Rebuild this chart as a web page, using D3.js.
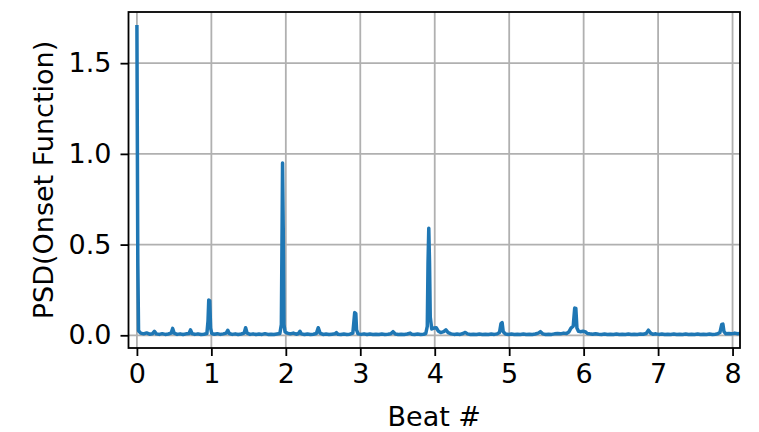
<!DOCTYPE html>
<html>
<head>
<meta charset="utf-8">
<script src="https://cdn.jsdelivr.net/npm/d3@7"></script>
<style>
    body { margin: 0; background: #fff; }
    svg { display: block; font-family: "DejaVu Sans", sans-serif; }
</style>
</head>
<body>
<div id="chart"></div>
<script>
// beat position vs PSD of onset function
const psdPoints = [
    [0.000, 1.71], [0.012, 0.40], [0.022, 0.025], [0.05, 0.012], [0.09, 0.008], [0.13, 0.013], [0.17, 0.006],
    [0.21, 0.009], [0.235, 0.022], [0.26, 0.008], [0.30, 0.005], [0.34, 0.009], [0.38, 0.005], [0.42, 0.007],
    [0.46, 0.012], [0.48, 0.038], [0.50, 0.012], [0.54, 0.005], [0.58, 0.008], [0.62, 0.004], [0.66, 0.008],
    [0.70, 0.010], [0.72, 0.030], [0.74, 0.010], [0.78, 0.005], [0.82, 0.008], [0.86, 0.004], [0.90, 0.006],
    [0.94, 0.010], [0.955, 0.08], [0.965, 0.195], [0.978, 0.19], [0.99, 0.04], [1.005, 0.010],
    [1.04, 0.006], [1.08, 0.009], [1.12, 0.005], [1.16, 0.008], [1.20, 0.012], [1.22, 0.028], [1.24, 0.010],
    [1.28, 0.005], [1.32, 0.008], [1.36, 0.004], [1.40, 0.007], [1.44, 0.012], [1.46, 0.042], [1.48, 0.012],
    [1.52, 0.005], [1.56, 0.008], [1.60, 0.004], [1.64, 0.007], [1.68, 0.005], [1.72, 0.009], [1.76, 0.005],
    [1.80, 0.006], [1.84, 0.004], [1.88, 0.007], [1.92, 0.010], [1.94, 0.06], [1.950, 0.60], [1.956, 0.95],
    [1.965, 0.60], [1.975, 0.06], [1.99, 0.018],
    [2.02, 0.012], [2.06, 0.008], [2.10, 0.012], [2.14, 0.006], [2.17, 0.010], [2.19, 0.022], [2.21, 0.008],
    [2.25, 0.004], [2.29, 0.007], [2.33, 0.004], [2.37, 0.006], [2.41, 0.010], [2.435, 0.042], [2.46, 0.012],
    [2.50, 0.005], [2.54, 0.007], [2.58, 0.004], [2.62, 0.006], [2.66, 0.008], [2.68, 0.015], [2.70, 0.006],
    [2.74, 0.004], [2.78, 0.007], [2.82, 0.005], [2.86, 0.006], [2.90, 0.012], [2.915, 0.08], [2.925, 0.125],
    [2.94, 0.12], [2.95, 0.03], [2.97, 0.008],
    [3.01, 0.005], [3.05, 0.008], [3.09, 0.004], [3.13, 0.007], [3.17, 0.005], [3.21, 0.006], [3.25, 0.004],
    [3.29, 0.007], [3.33, 0.005], [3.37, 0.006], [3.41, 0.008], [3.44, 0.020], [3.47, 0.007], [3.51, 0.004],
    [3.55, 0.006], [3.59, 0.005], [3.63, 0.007], [3.67, 0.012], [3.69, 0.006], [3.73, 0.004], [3.77, 0.007],
    [3.81, 0.005], [3.85, 0.006], [3.88, 0.010], [3.90, 0.05], [3.91, 0.40], [3.92, 0.59], [3.93, 0.40],
    [3.94, 0.10], [3.96, 0.035], [3.99, 0.04], [4.02, 0.042], [4.05, 0.022], [4.08, 0.015], [4.12, 0.020],
    [4.15, 0.030], [4.18, 0.015], [4.22, 0.008],
    [4.26, 0.005], [4.30, 0.007], [4.34, 0.005], [4.38, 0.010], [4.41, 0.016], [4.44, 0.008], [4.48, 0.004],
    [4.52, 0.006], [4.56, 0.004], [4.60, 0.007], [4.64, 0.005], [4.68, 0.006], [4.72, 0.004], [4.76, 0.007],
    [4.80, 0.005], [4.84, 0.008], [4.87, 0.015], [4.89, 0.065], [4.905, 0.07], [4.92, 0.020], [4.95, 0.007],
    [4.99, 0.005], [5.03, 0.007], [5.07, 0.004], [5.11, 0.006], [5.15, 0.005], [5.19, 0.007], [5.23, 0.004],
    [5.27, 0.006], [5.31, 0.005], [5.35, 0.007], [5.39, 0.012], [5.42, 0.020], [5.45, 0.008], [5.49, 0.004],
    [5.53, 0.006], [5.57, 0.005], [5.61, 0.008], [5.65, 0.010], [5.69, 0.008], [5.73, 0.012], [5.77, 0.010],
    [5.80, 0.018], [5.83, 0.040], [5.86, 0.05], [5.88, 0.15], [5.895, 0.148], [5.91, 0.04], [5.93, 0.022],
    [5.96, 0.020], [5.99, 0.022], [6.02, 0.020], [6.05, 0.010], [6.08, 0.008], [6.12, 0.006], [6.16, 0.009],
    [6.20, 0.006], [6.24, 0.005], [6.28, 0.007], [6.32, 0.004], [6.36, 0.006], [6.40, 0.005], [6.44, 0.007],
    [6.48, 0.004], [6.52, 0.006], [6.56, 0.005], [6.60, 0.007], [6.64, 0.004], [6.68, 0.006], [6.72, 0.005],
    [6.76, 0.007], [6.80, 0.006], [6.84, 0.010], [6.87, 0.028], [6.90, 0.012], [6.93, 0.006],
    [6.97, 0.008], [7.01, 0.005], [7.05, 0.007], [7.09, 0.004], [7.13, 0.006], [7.17, 0.005], [7.21, 0.007],
    [7.25, 0.004], [7.29, 0.006], [7.33, 0.005], [7.37, 0.007], [7.41, 0.004], [7.45, 0.006], [7.49, 0.005],
    [7.53, 0.007], [7.57, 0.004], [7.61, 0.006], [7.65, 0.005], [7.69, 0.007], [7.73, 0.005], [7.77, 0.006],
    [7.80, 0.008], [7.83, 0.015], [7.855, 0.060], [7.87, 0.062], [7.885, 0.020], [7.91, 0.008], [7.95, 0.010],
    [7.99, 0.008], [8.03, 0.012], [8.07, 0.009], [8.11, 0.010], [8.15, 0.008]
];
const xTicks = [0, 1, 2, 3, 4, 5, 6, 7, 8];
const yTicks = [0.0, 0.5, 1.0, 1.5];
const xLabel = "Beat #";
const yLabel = "PSD(Onset Function)";

const W = 759, H = 432;
const m = { left: 128.5, right: 19, top: 12, bottom: 84 };
const fs = 27;

const svg = d3.select("#chart").append("svg")
    .attr("width", W)
    .attr("height", H);

const x = d3.scaleLinear().domain([-0.113, 8.10]).range([m.left, W - m.right]);
const y = d3.scaleLinear().domain([-0.07, 1.782]).range([H - m.bottom, m.top]);

svg.append("clipPath").attr("id", "plot-clip")
    .append("rect")
    .attr("x", m.left).attr("y", m.top)
    .attr("width", W - m.left - m.right).attr("height", H - m.top - m.bottom);

// grid
let grid = svg.append("g").attr("class", "grid");
grid.selectAll(".gx").data(xTicks).enter().append("line")
    .attr("x1", d => x(d)).attr("x2", d => x(d))
    .attr("y1", m.top).attr("y2", H - m.bottom)
    .style("stroke", "#b0b0b0").style("stroke-width", 1.8);
grid.selectAll(".gy").data(yTicks).enter().append("line")
    .attr("y1", d => y(d)).attr("y2", d => y(d))
    .attr("x1", m.left).attr("x2", W - m.right)
    .style("stroke", "#b0b0b0").style("stroke-width", 1.8);

// series
const line = d3.line().x(d => x(d[0])).y(d => y(d[1]));
svg.append("path")
    .datum(psdPoints)
    .attr("clip-path", "url(#plot-clip)")
    .attr("d", line)
    .style("fill", "none")
    .style("stroke", "#1f77b4")
    .style("stroke-width", 3.5)
    .style("stroke-linejoin", "round")
    .style("stroke-linecap", "butt");

// axes
const xAxis = d3.axisBottom(x).tickValues(xTicks).tickFormat(d3.format("d")).tickSize(8).tickPadding(8);
const yAxis = d3.axisLeft(y).tickValues(yTicks).tickFormat(d3.format(".1f")).tickSize(8).tickPadding(9);

let gx = svg.append("g")
    .attr("transform", "translate(0," + (H - m.bottom) + ")")
    .call(xAxis);
let gy = svg.append("g")
    .attr("transform", "translate(" + m.left + ",0)")
    .call(yAxis);

[gx, gy].forEach(g => {
    g.select(".domain").remove();
    g.selectAll(".tick line").style("stroke", "#000").style("stroke-width", 1.8);
    g.selectAll(".tick text").style("font-size", fs + "px").style("fill", "#000")
        .style("font-family", "'DejaVu Sans', sans-serif");
});

// frame
svg.append("rect")
    .attr("x", m.left).attr("y", m.top)
    .attr("width", W - m.left - m.right).attr("height", H - m.top - m.bottom)
    .style("fill", "none").style("stroke", "#000").style("stroke-width", 1.8);

svg.append("text")
    .attr("x", (m.left + W - m.right) / 2)
    .attr("y", 426)
    .attr("text-anchor", "middle")
    .style("font-size", fs + "px")
    .text(xLabel);

svg.append("text")
    .attr("transform", "translate(53," + ((m.top + H - m.bottom) / 2) + ") rotate(-90)")
    .attr("text-anchor", "middle")
    .style("font-size", fs + "px")
    .text(yLabel);
</script>
</body>
</html>
